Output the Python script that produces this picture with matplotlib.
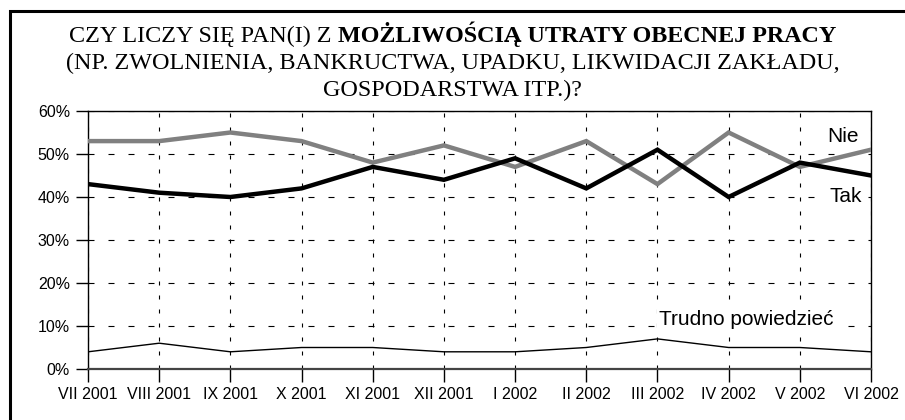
import matplotlib
matplotlib.use("Agg")
import matplotlib.pyplot as plt
from matplotlib.patches import Rectangle
from matplotlib.ticker import FuncFormatter

categories = ["VII 2001", "VIII 2001", "IX 2001", "X 2001", "XI 2001", "XII 2001",
              "I 2002", "II 2002", "III 2002", "IV 2002", "V 2002", "VI 2002"]
nie = [53, 53, 55, 53, 48, 52, 47, 53, 43, 55, 47, 51]
tak = [43, 41, 40, 42, 47, 44, 49, 42, 51, 40, 48, 45]
trudno = [4, 6, 4, 5, 5, 4, 4, 5, 7, 5, 5, 4]
yticks = [0, 10, 20, 30, 40, 50, 60]

fig = plt.figure(figsize=(9.05, 4.2), dpi=100)
ax = fig.add_axes([88/905, 1-369/420, (871-88)/905, (369-111)/420])

x = list(range(len(categories)))
ax.plot(x, nie, color="#808080", lw=3.2, solid_joinstyle="miter", zorder=3)
ax.plot(x, tak, color="black", lw=3.2, solid_joinstyle="miter", zorder=4)
ax.plot(x, trudno, color="black", lw=1.0, zorder=3)

ax.set_xlim(0, len(categories)-1)
ax.set_ylim(0, 60)
ax.set_xticks(x)
ax.set_xticklabels(categories, fontfamily="Liberation Sans", fontsize=11.5)
ax.set_yticks(yticks)
ax.yaxis.set_major_formatter(FuncFormatter(lambda v, p: f"{int(v)}%"))
for lab in ax.get_yticklabels():
    lab.set_fontfamily("Liberation Sans")
    lab.set_fontsize(11.5)
ax.tick_params(axis="both", direction="out", length=9, width=1, color="black", pad=4)
ax.yaxis.grid(True, color="black", linestyle=(0, (5.4, 12.6)), lw=0.8)
ax.xaxis.grid(True, color="black", linestyle=(0, (3.6, 9.0)), lw=0.8)
ax.set_axisbelow(True)
for s in ax.spines.values():
    s.set_color("black")
    s.set_linewidth(1.0)
ax.spines["bottom"].set_color("#444444")
ax.spines["bottom"].set_linewidth(1.6)

lab_font = dict(fontfamily="Liberation Sans", fontsize=15, zorder=5,
                bbox=dict(facecolor="white", edgecolor="none", pad=1.0))
ax.text(10.6, 54, "Nie", ha="center", va="center", **lab_font)
ax.text(10.65, 40, "Tak", ha="center", va="center", **lab_font)
ax.text(8.02, 11.4, "Trudno powiedzieć", ha="left", va="center", **lab_font)

# Title (serif, partly bold)
ser = dict(fontfamily="Liberation Serif", fontsize=17.4)
fig.text(0.5, 1-69/420, "(NP. ZWOLNIENIA, BANKRUCTWA, UPADKU, LIKWIDACJI ZAKŁADU,",
         ha="center", va="baseline", **ser)
fig.text(0.5, 1-96/420, "GOSPODARSTWA ITP.)?", ha="center", va="baseline", **ser)
t1 = fig.text(0.0, 1-42/420, "CZY LICZY SIĘ PAN(I) Z ", ha="left", va="baseline", **ser)
t2 = fig.text(0.0, 1-42/420, "MOŻLIWOŚCIĄ UTRATY OBECNEJ PRACY", ha="left", va="baseline",
              fontweight="bold", **ser)
fig.canvas.draw()
r = fig.canvas.get_renderer()
w1 = t1.get_window_extent(r).width
w2 = t2.get_window_extent(r).width
W = fig.bbox.width
start = (W - (w1 + w2)) / 2
t1.set_x(start / W)
t2.set_x((start + w1) / W)

# Outer border (box continues beyond right/bottom edge)
fig.patches.append(Rectangle((10/905, -0.1), 1.2, 1.1 - 11/420, transform=fig.transFigure,
                             fill=False, edgecolor="black", lw=2.2, clip_on=False))

fig.savefig("out.png", dpi=100)
